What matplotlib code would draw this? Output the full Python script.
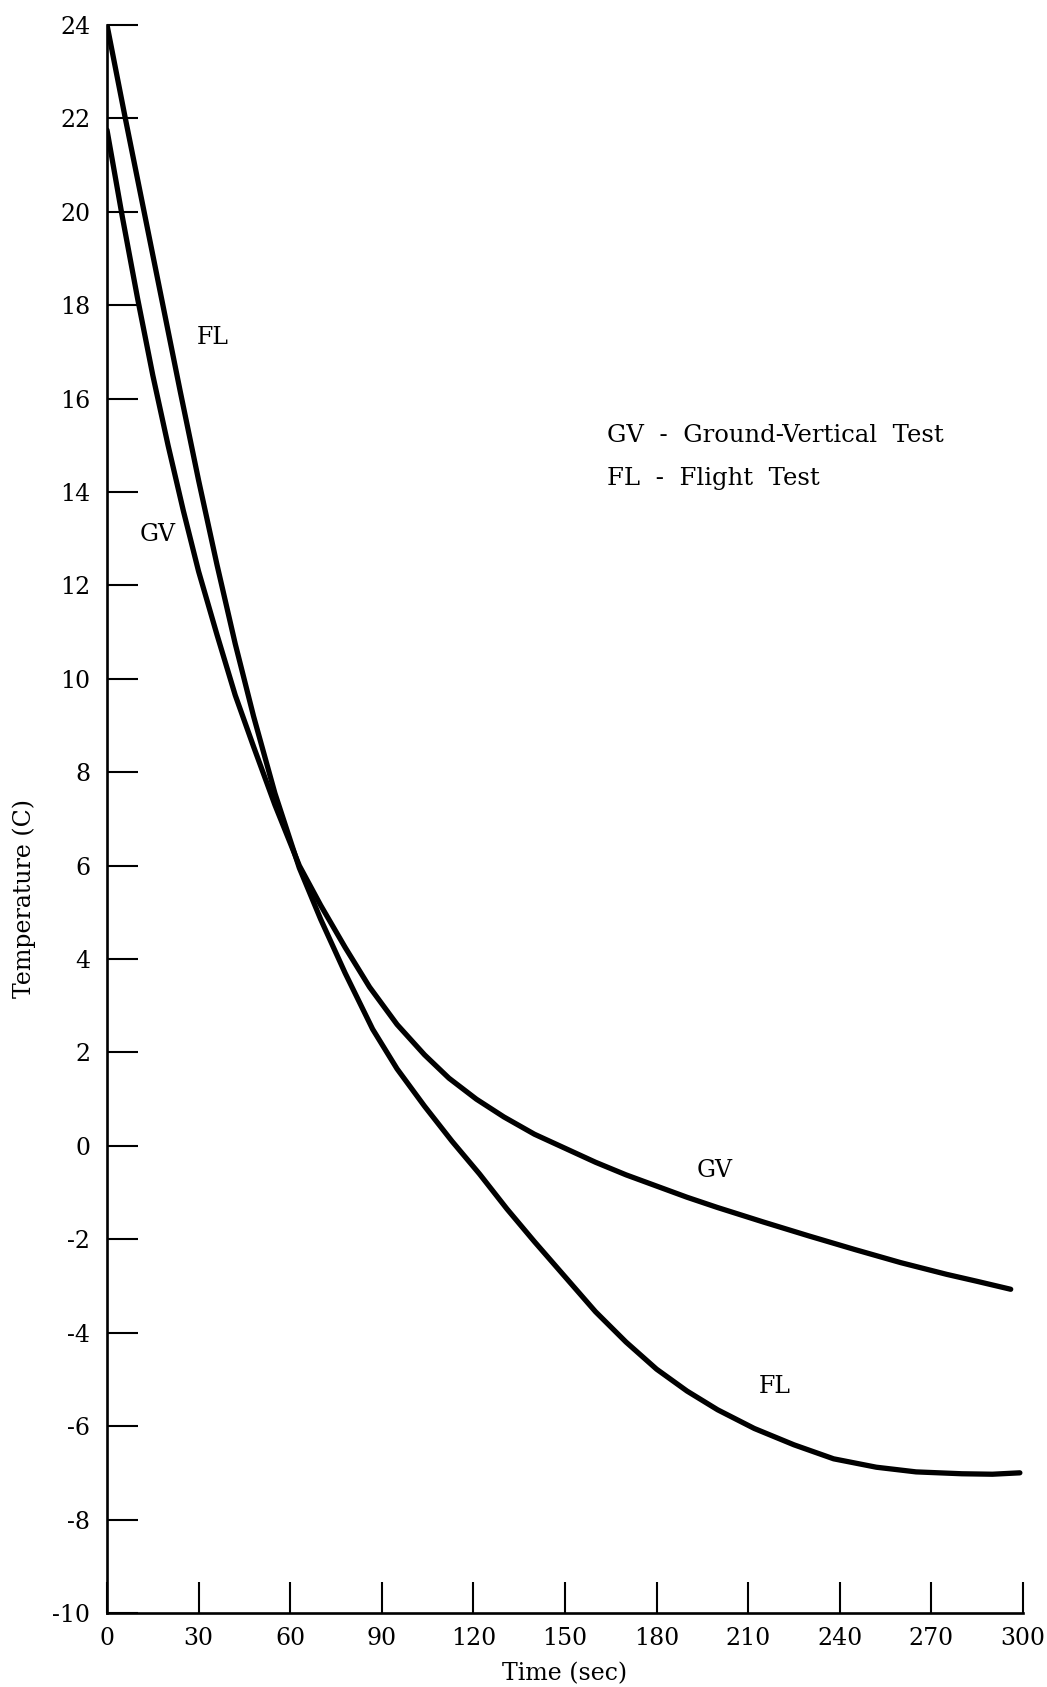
import matplotlib
matplotlib.use("Agg")
import matplotlib.pyplot as plt

# readings (time in sec, temperature in C)
fl_time = [0, 6, 12, 18, 24, 30, 36, 42, 48, 55, 63, 70, 78, 87, 95, 104, 113,
           122, 131, 140, 150, 160, 170, 180, 190, 200, 212, 225, 238, 252, 265,
           280, 290, 299]
fl_temp = [24.0, 22.0, 20.05, 18.1, 16.15, 14.25, 12.45, 10.75, 9.2, 7.55, 5.95,
           4.85, 3.7, 2.5, 1.65, 0.85, 0.1, -0.6, -1.35, -2.05, -2.8, -3.55, -4.2,
           -4.78, -5.25, -5.65, -6.05, -6.4, -6.7, -6.88, -6.98, -7.02, -7.03, -7.0]

gv_time = [0, 5, 10, 15, 20, 25, 30, 36, 42, 48, 55, 63, 70, 78, 86, 95, 104, 112,
           121, 130, 140, 150, 160, 170, 180, 190, 200, 215, 230, 245, 260, 275,
           285, 296]
gv_temp = [21.75, 19.9, 18.15, 16.5, 15.0, 13.6, 12.3, 10.95, 9.65, 8.55, 7.3, 6.0,
           5.15, 4.25, 3.4, 2.6, 1.95, 1.45, 1.0, 0.62, 0.25, -0.05, -0.35, -0.62,
           -0.86, -1.1, -1.32, -1.63, -1.93, -2.22, -2.5, -2.75, -2.9, -3.07]

x_ticks = [0, 30, 60, 90, 120, 150, 180, 210, 240, 270, 300]
y_ticks = [24, 22, 20, 18, 16, 14, 12, 10, 8, 6, 4, 2, 0, -2, -4, -6, -8, -10]
y_tick_labels = ['24', '22', '20', '18', '16', '14', '12', '10', '8', '6', '4', '2',
                 '0', '-2', '-4', '-6', '-8', '-10']

legend_lines = ['GV  -  Ground-Vertical  Test', 'FL  -  Flight  Test']

plt.rcParams['font.family'] = ['DejaVu Serif']

fig = plt.figure(figsize=(10.47, 16.87), dpi=100)
ax = fig.add_axes([0.1022, 0.0439, 0.8748, 0.9413])

ax.plot(fl_time, fl_temp, color='black', lw=3.8, solid_joinstyle='round',
        solid_capstyle='round')
ax.plot(gv_time, gv_temp, color='black', lw=3.8, solid_joinstyle='round',
        solid_capstyle='round')

ax.set_xlim(0, 300)
ax.set_ylim(-10, 24)

for side in ['top', 'right']:
    ax.spines[side].set_visible(False)
for side in ['left', 'bottom']:
    ax.spines[side].set_linewidth(1.9)

ax.set_xticks(x_ticks)
ax.set_xticklabels([str(v) for v in x_ticks])
ax.set_yticks(y_ticks)
ax.set_yticklabels(y_tick_labels)
ax.tick_params(axis='both', direction='in', length=22, width=1.5, labelsize=17)
ax.tick_params(axis='y', pad=12)
ax.tick_params(axis='x', pad=10)

ax.set_xlabel('Time (sec)', fontsize=17)
ax.xaxis.set_label_coords(0.5, -0.031)
ax.set_ylabel('Temperature (C)', fontsize=17)
ax.yaxis.set_label_coords(-0.077, 0.45)

# curve labels
ax.text(34.7, 17.3, 'FL', fontsize=17, ha='center', va='center')
ax.text(16.7, 13.1, 'GV', fontsize=17, ha='center', va='center')
ax.text(199, -0.52, 'GV', fontsize=17, ha='center', va='center')
ax.text(218.8, -5.16, 'FL', fontsize=17, ha='center', va='center')

# key text
ax.text(163.8, 15.22, legend_lines[0], fontsize=17.5, ha='left', va='center')
ax.text(163.8, 14.3, legend_lines[1], fontsize=17.5, ha='left', va='center')

fig.savefig('out.png', dpi=100)
